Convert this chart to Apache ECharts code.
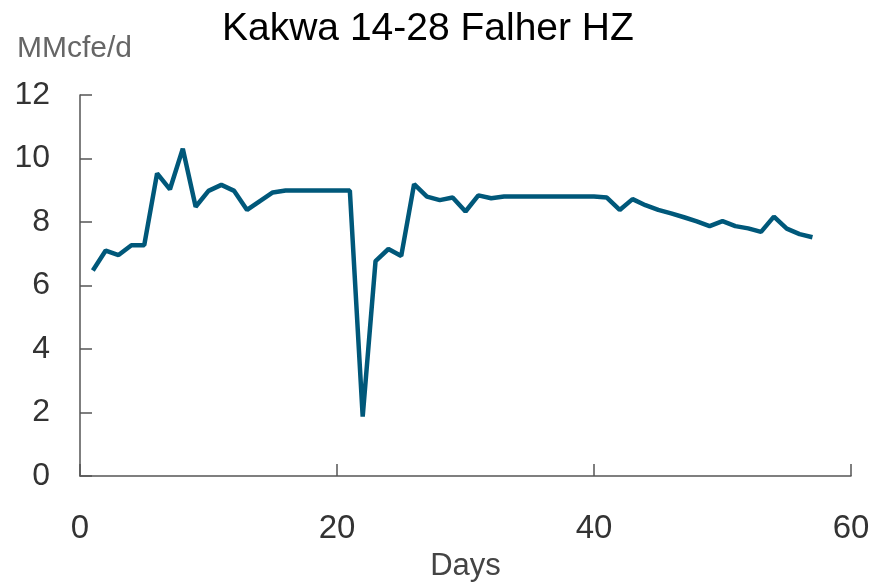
<!DOCTYPE html>
<html>
<head>
<meta charset="utf-8">
<title>Kakwa 14-28 Falher HZ</title>
<script src="https://cdn.jsdelivr.net/npm/echarts@6/dist/echarts.min.js"></script>
<style>
  html, body { margin: 0; padding: 0; background: #fff; }
  #chart { width: 873px; height: 582px; }
</style>
</head>
<body>
<div id="chart"></div>
<script>
// production days 1..57
var days = [];
for (var d = 1; d <= 57; d++) days.push(d);

// MMcfe/d
var rate = [
  6.47, 7.10, 6.96, 7.27, 7.27, 9.53, 9.03, 10.31, 8.48, 8.98,
  9.17, 8.98, 8.38, 8.66, 8.93, 8.99, 8.99, 8.99, 8.99, 8.99,
  8.99, 1.87, 6.77, 7.15, 6.93, 9.19, 8.80, 8.69, 8.77, 8.33,
  8.84, 8.75, 8.80, 8.80, 8.80, 8.80, 8.80, 8.80, 8.80, 8.80,
  8.77, 8.38, 8.72, 8.53, 8.38, 8.27, 8.15, 8.02, 7.87, 8.03,
  7.87, 7.80, 7.69, 8.17, 7.79, 7.62, 7.52
];

var xTicks = [0, 20, 40, 60];
var yTicks = [0, 2, 4, 6, 8, 10, 12];

var pairs = [];
for (var i = 0; i < days.length; i++) {
  pairs.push([days[i], rate[i]]);
}

var font = "'Liberation Sans', Arial, sans-serif";
var chart = echarts.init(document.getElementById('chart'));

chart.setOption({
  backgroundColor: '#fff',
  animation: false,
  title: [{
    text: 'Kakwa 14-28 Falher HZ',
    left: 217,
    top: 5,
    textStyle: { fontFamily: font, fontWeight: 'normal', fontSize: 39, color: '#000' }
  }, {
    text: 'MMcfe/d',
    left: 12,
    top: 29,
    textStyle: { fontFamily: font, fontWeight: 'normal', fontSize: 30, color: '#666' }
  }],
  grid: { left: 80, right: 22, top: 95, bottom: 106, outerBoundsMode: 'none', containLabel: false },
  xAxis: {
    type: 'value',
    min: xTicks[0],
    max: xTicks[xTicks.length - 1],
    interval: 20,
    name: 'Days',
    nameLocation: 'middle',
    nameGap: 75,
    nameTextStyle: { fontFamily: font, fontSize: 31, color: '#444' },
    axisLine: { show: true, lineStyle: { color: '#555', width: 1.5 } },
    axisTick: { show: true, inside: true, length: 12, lineStyle: { color: '#555', width: 1.5 } },
    axisLabel: { fontFamily: font, fontSize: 33, color: '#333', margin: 36 },
    splitLine: { show: false }
  },
  yAxis: {
    type: 'value',
    min: yTicks[0],
    max: yTicks[yTicks.length - 1],
    interval: 2,
    axisLine: { show: true, lineStyle: { color: '#555', width: 1.5 } },
    axisTick: { show: true, inside: true, length: 12, lineStyle: { color: '#555', width: 1.5 } },
    axisLabel: { fontFamily: font, fontSize: 32, color: '#333', margin: 30 },
    splitLine: { show: false }
  },
  series: [{
    type: 'line',
    data: pairs,
    symbol: 'none',
    lineStyle: { color: '#00587A', width: 4.5 },
    itemStyle: { color: '#00587A' }
  }]
});
</script>
</body>
</html>
